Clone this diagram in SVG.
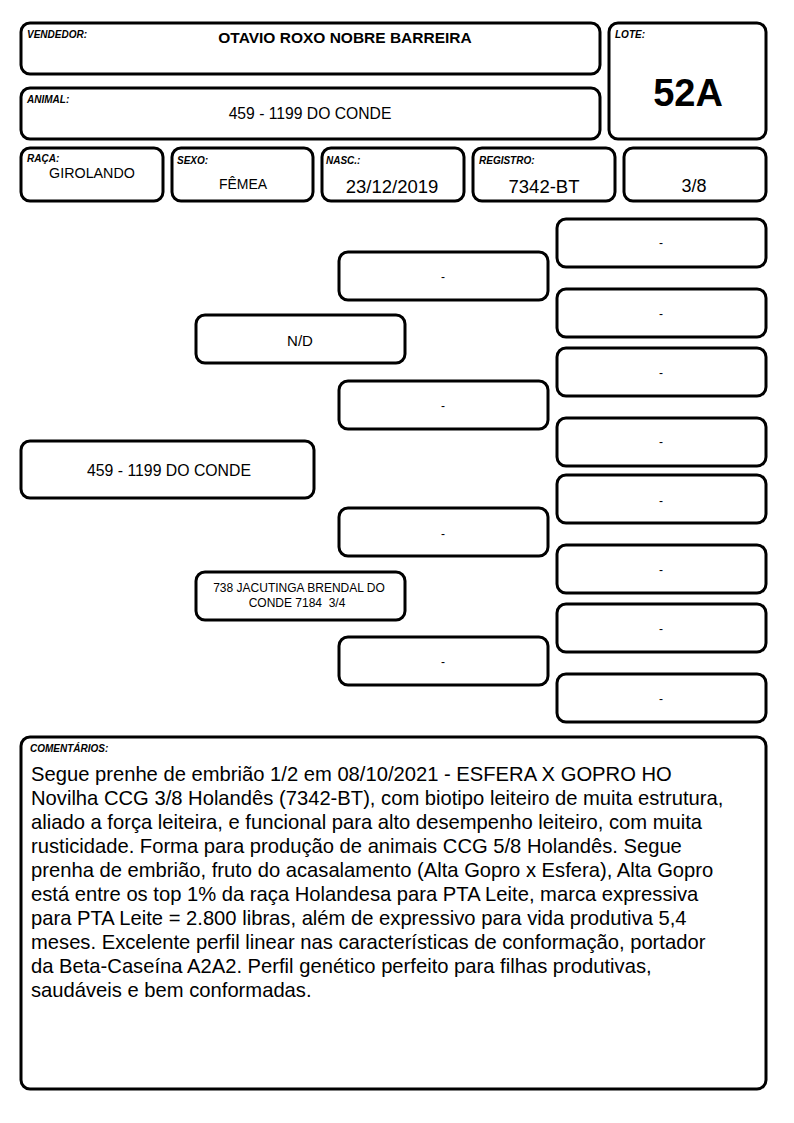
<svg xmlns="http://www.w3.org/2000/svg" width="794" height="1123" viewBox="0 0 794 1123">
<style>
.b{fill:#fff;stroke:#000;stroke-width:3}
.t{font-family:"Liberation Sans",Arial,sans-serif;fill:#000}
.lb{font-family:"Liberation Sans",Arial,sans-serif;font-size:10px;font-weight:bold;font-style:italic;fill:#000}
.c{text-anchor:middle}
.d{font-size:12px}
</style>
<rect width="794" height="1123" fill="#fff"/>
<g id="vendedor"><rect class="b" x="21" y="23" width="579" height="51" rx="9"/><text class="lb" x="27" y="38">VENDEDOR:</text><text class="t c" x="345" y="43" font-size="15.5" font-weight="bold">OTAVIO ROXO NOBRE BARREIRA</text></g>
<g id="animal"><rect class="b" x="21" y="88" width="579" height="51" rx="9"/><text class="lb" x="27" y="103">ANIMAL:</text><text class="t c" x="310" y="119" font-size="15.7">459 - 1199 DO CONDE</text></g>
<g id="lote"><rect class="b" x="609" y="23" width="157" height="116" rx="9"/><text class="lb" x="615" y="38">LOTE:</text><text class="t c" x="688" y="106" font-size="38" font-weight="bold">52A</text></g>
<g id="raca"><rect class="b" x="21" y="148" width="142" height="53" rx="9"/><text class="lb" x="27" y="162">RAÇA:</text><text class="t c" x="92" y="178" font-size="14.3">GIROLANDO</text></g>
<g id="sexo"><rect class="b" x="172" y="148" width="141" height="53" rx="9"/><text class="lb" x="177" y="164">SEXO:</text><text class="t c" x="243" y="189" font-size="14">FÊMEA</text></g>
<g id="nasc"><rect class="b" x="322" y="148" width="142" height="53" rx="9"/><text class="lb" x="326" y="164">NASC.:</text><text class="t c" x="392" y="193" font-size="18.5">23/12/2019</text></g>
<g id="registro"><rect class="b" x="473" y="148" width="142" height="53" rx="9"/><text class="lb" x="479" y="164">REGISTRO:</text><text class="t c" x="544" y="193" font-size="18.5">7342-BT</text></g>
<g id="grau"><rect class="b" x="624" y="148" width="142" height="53" rx="9"/><text class="t c" x="694" y="192" font-size="18">3/8</text></g>
<g id="p1"><rect class="b" x="21" y="441" width="293" height="57" rx="9"/><text class="t c" x="169" y="476" font-size="15.8">459 - 1199 DO CONDE</text></g>
<g id="p2a"><rect class="b" x="196" y="315" width="209" height="48" rx="9"/><text class="t c" x="300" y="346" font-size="15">N/D</text></g>
<g id="p2b"><rect class="b" x="196" y="572" width="209" height="48" rx="9"/><text class="t c d" x="299" y="592">738 JACUTINGA BRENDAL DO</text><text class="t c d" x="297" y="607" xml:space="preserve">CONDE 7184  3/4</text></g>
<g id="p3a"><rect class="b" x="339" y="252" width="209" height="48" rx="9"/><text class="t c d" x="443" y="281">-</text></g>
<g id="p3b"><rect class="b" x="339" y="381" width="209" height="48" rx="9"/><text class="t c d" x="443" y="410">-</text></g>
<g id="p3c"><rect class="b" x="339" y="508" width="209" height="48" rx="9"/><text class="t c d" x="443" y="538">-</text></g>
<g id="p3d"><rect class="b" x="339" y="637" width="209" height="48" rx="9"/><text class="t c d" x="443" y="666">-</text></g>
<g id="p4a"><rect class="b" x="557" y="219" width="209" height="48" rx="9"/><text class="t c d" x="661" y="247">-</text></g>
<g id="p4b"><rect class="b" x="557" y="289" width="209" height="48" rx="9"/><text class="t c d" x="661" y="318">-</text></g>
<g id="p4c"><rect class="b" x="557" y="348" width="209" height="48" rx="9"/><text class="t c d" x="661" y="377">-</text></g>
<g id="p4d"><rect class="b" x="557" y="418" width="209" height="48" rx="9"/><text class="t c d" x="661" y="446">-</text></g>
<g id="p4e"><rect class="b" x="557" y="475" width="209" height="48" rx="9"/><text class="t c d" x="661" y="505">-</text></g>
<g id="p4f"><rect class="b" x="557" y="545" width="209" height="48" rx="9"/><text class="t c d" x="661" y="574">-</text></g>
<g id="p4g"><rect class="b" x="557" y="604" width="209" height="48" rx="9"/><text class="t c d" x="661" y="633">-</text></g>
<g id="p4h"><rect class="b" x="557" y="674" width="209" height="48" rx="9"/><text class="t c d" x="661" y="703">-</text></g>
<g id="connectors"></g>
<g id="comentarios"><rect class="b" x="21" y="737" width="745" height="352" rx="9"/><text class="lb" x="30" y="752">COMENTÁRIOS:</text>
<text class="t" font-size="20.2" x="31">
<tspan x="31" y="781">Segue prenhe de embrião 1/2 em 08/10/2021 - ESFERA X GOPRO HO</tspan>
<tspan x="31" y="805">Novilha CCG 3/8 Holandês (7342-BT), com biotipo leiteiro de muita estrutura,</tspan>
<tspan x="31" y="829">aliado a força leiteira, e funcional para alto desempenho leiteiro, com muita</tspan>
<tspan x="31" y="853">rusticidade. Forma para produção de animais CCG 5/8 Holandês. Segue</tspan>
<tspan x="31" y="877">prenha de embrião, fruto do acasalamento (Alta Gopro x Esfera), Alta Gopro</tspan>
<tspan x="31" y="901">está entre os top 1% da raça Holandesa para PTA Leite, marca expressiva</tspan>
<tspan x="31" y="925">para PTA Leite = 2.800 libras, além de expressivo para vida produtiva 5,4</tspan>
<tspan x="31" y="949">meses. Excelente perfil linear nas características de conformação, portador</tspan>
<tspan x="31" y="973">da Beta-Caseína A2A2. Perfil genético perfeito para filhas produtivas,</tspan>
<tspan x="31" y="997">saudáveis e bem conformadas.</tspan>
</text></g>
</svg>
